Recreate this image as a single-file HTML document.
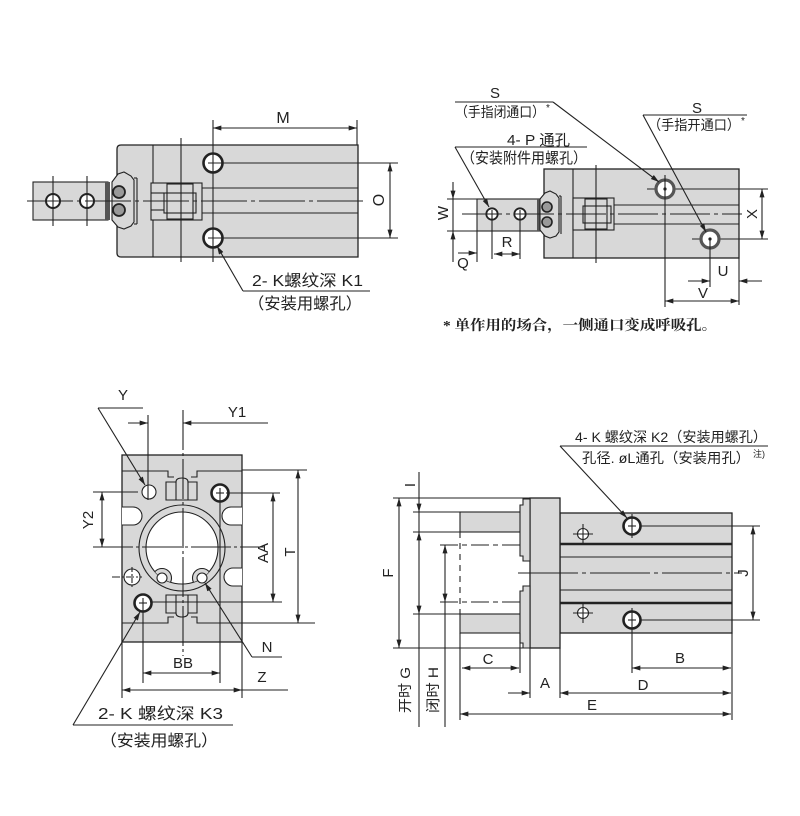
<!DOCTYPE html>
<html><head><meta charset="utf-8"><style>
html,body{margin:0;padding:0;background:#fff;}
svg{display:block}
text{font-family:"Liberation Sans","Noto Sans CJK SC",sans-serif;fill:#222;stroke:none}
</style></head><body>
<svg width="800" height="816" viewBox="0 0 800 816" xmlns="http://www.w3.org/2000/svg">
<defs>
<marker id="a" viewBox="0 0 10 6" refX="10" refY="3" markerWidth="9" markerHeight="5" markerUnits="userSpaceOnUse" orient="auto-start-reverse"><path d="M0,0L10,3L0,6z" fill="#222"/></marker>
<clipPath id="inner"><circle cx="182" cy="548" r="36"/></clipPath>
</defs>

<!-- ================= TOP-LEFT VIEW ================= -->
<g stroke="#222" stroke-width="1.1" fill="none">
  <rect x="33" y="182" width="75" height="38" fill="#d8d8d8"/>
  <path d="M121,145H358V257H121Q117,257 117,253V149Q117,145 121,145Z" fill="#d8d8d8" stroke-width="1.3"/>
  <rect x="105" y="182" width="5" height="38" fill="#555" stroke="none"/>
  <path d="M112,182L118,174L124,172L131,176L134,180L134,222L131,226L124,229L118,227L112,220Z" fill="#d8d8d8"/>
  <line x1="134" y1="178" x2="137" y2="178"/><line x1="137" y1="178" x2="137" y2="224"/><line x1="134" y1="224" x2="137" y2="224"/>
  <circle cx="119" cy="192" r="6" fill="#999" stroke-width="1.8"/>
  <circle cx="119" cy="210" r="6" fill="#999" stroke-width="1.8"/>
  <line x1="153" y1="145" x2="153" y2="257"/>
  <!-- slider -->
  <rect x="151" y="183" width="51" height="37" fill="#d8d8d8"/>
  <rect x="167" y="184" width="26" height="35"/>
  <rect x="164" y="193" width="32" height="20"/>
  <line x1="151" y1="193" x2="164" y2="193"/><line x1="151" y1="210" x2="164" y2="210"/>
  <line x1="181" y1="138" x2="181" y2="262"/>
  <line x1="202" y1="188" x2="358" y2="188"/>
  <line x1="202" y1="213" x2="358" y2="213"/>
  <!-- rod holes -->
  <circle cx="53" cy="201" r="7" fill="#fff" stroke-width="2"/>
  <circle cx="87" cy="201" r="7" fill="#fff" stroke-width="2"/>
  <line x1="27" y1="201" x2="363" y2="201" stroke-dasharray="46 4 4 4"/>
  <line x1="53" y1="176" x2="53" y2="226"/><line x1="87" y1="176" x2="87" y2="226"/>
  <!-- mount holes -->
  <circle cx="213" cy="163" r="9.5" fill="#fff" stroke-width="2.6"/>
  <circle cx="213" cy="238" r="9.5" fill="#fff" stroke-width="2.6"/>
  <line x1="213" y1="120" x2="213" y2="262"/>
  <line x1="208" y1="163" x2="398" y2="163"/>
  <line x1="208" y1="238" x2="398" y2="238"/>
  <line x1="357" y1="120" x2="357" y2="145"/>
  <!-- M -->
  <line x1="213" y1="128" x2="357" y2="128" marker-start="url(#a)" marker-end="url(#a)"/>
  <!-- O -->
  <line x1="390" y1="163" x2="390" y2="238" marker-start="url(#a)" marker-end="url(#a)"/>
  <!-- leader -->
  <line x1="243" y1="291" x2="217" y2="246" marker-end="url(#a)"/>
  <line x1="243" y1="291" x2="370" y2="291"/>
</g>
<text x="283" y="123" font-size="16" text-anchor="middle">M</text>
<text x="378" y="206" font-size="16" text-anchor="middle" transform="rotate(-90 378 200)">O</text>
<text x="252" y="286" font-size="16" textLength="111" lengthAdjust="spacingAndGlyphs">2- K螺纹深 K1</text>
<text x="248" y="309" font-size="16" textLength="114" lengthAdjust="spacingAndGlyphs">（安装用螺孔）</text>

<!-- ================= TOP-RIGHT VIEW ================= -->
<g stroke="#222" stroke-width="1.1" fill="none">
  <rect x="477" y="199" width="63" height="32" fill="#d8d8d8"/>
  <rect x="544" y="169" width="195" height="89" fill="#d8d8d8" stroke-width="1.3"/>
  <rect x="537" y="199" width="4" height="32" fill="#555" stroke="none"/>
  <path d="M540,199L545,193L550,191L556,194L559,198L559,232L556,236L550,238L545,236L540,230Z" fill="#d8d8d8"/>
  <line x1="559" y1="196" x2="561" y2="196"/><line x1="561" y1="196" x2="561" y2="234"/>
  <circle cx="547" cy="207" r="5" fill="#999" stroke-width="1.6"/>
  <circle cx="547" cy="222" r="5" fill="#999" stroke-width="1.6"/>
  <line x1="573" y1="169" x2="573" y2="258"/>
  <rect x="573" y="198" width="41" height="32" fill="#d8d8d8"/>
  <rect x="585" y="199" width="22" height="30"/>
  <rect x="583" y="206" width="28" height="17"/>
  <line x1="596" y1="165" x2="596" y2="263"/>
  <line x1="614" y1="205" x2="739" y2="205"/>
  <line x1="614" y1="224" x2="739" y2="224"/>
  <circle cx="492" cy="214" r="5.7" fill="#fff" stroke-width="1.8"/>
  <circle cx="520" cy="214" r="5.7" fill="#fff" stroke-width="1.8"/>
  <line x1="462" y1="214" x2="742" y2="214" stroke-dasharray="40 4 4 4"/>
  <!-- ports -->
  <line x1="647" y1="189" x2="768" y2="189"/>
  <line x1="692" y1="239" x2="768" y2="239"/>
  <circle cx="665" cy="189" r="9" fill="#fff" stroke="#555" stroke-width="3.2"/>
  <circle cx="710" cy="239" r="9" fill="#fff" stroke="#555" stroke-width="3.2"/>
  <circle cx="665" cy="189" r="1.6" fill="#222" stroke="none"/>
  <circle cx="710" cy="239" r="1.6" fill="#222" stroke="none"/>
  <line x1="665" y1="175" x2="665" y2="307"/>
  <line x1="710" y1="239" x2="710" y2="287"/>
  <line x1="739" y1="258" x2="739" y2="305"/>
  <!-- X -->
  <line x1="762" y1="189" x2="762" y2="239" marker-start="url(#a)" marker-end="url(#a)"/>
  <!-- W -->
  <line x1="447" y1="199" x2="477" y2="199"/>
  <line x1="447" y1="231" x2="477" y2="231"/>
  <line x1="453" y1="182" x2="453" y2="199" marker-end="url(#a)"/>
  <line x1="453" y1="248" x2="453" y2="231" marker-end="url(#a)"/>
  <line x1="453" y1="199" x2="453" y2="231"/>
  <line x1="453" y1="248" x2="453" y2="262"/>
  <line x1="477" y1="231" x2="477" y2="262"/>
  <line x1="492" y1="210" x2="492" y2="259"/>
  <line x1="520" y1="210" x2="520" y2="259"/>
  <!-- Q, R -->
  <line x1="458" y1="253" x2="477" y2="253" marker-end="url(#a)"/>
  <line x1="494" y1="254" x2="520" y2="254" marker-start="url(#a)" marker-end="url(#a)"/>
  <!-- U -->
  <line x1="688" y1="281" x2="710" y2="281" marker-end="url(#a)"/>
  <line x1="762" y1="281" x2="739" y2="281" marker-end="url(#a)"/>
  <!-- V -->
  <line x1="665" y1="301" x2="739" y2="301" marker-start="url(#a)" marker-end="url(#a)"/>
  <!-- leaders -->
  <line x1="455" y1="102" x2="553" y2="102"/>
  <line x1="553" y1="102" x2="659" y2="182" marker-end="url(#a)"/>
  <line x1="643" y1="115" x2="747" y2="115"/>
  <line x1="643" y1="115" x2="706" y2="232" marker-end="url(#a)"/>
  <line x1="455" y1="147" x2="587" y2="147"/>
  <line x1="455" y1="147" x2="489" y2="207" marker-end="url(#a)"/>
</g>
<text x="495" y="98" font-size="15" text-anchor="middle">S</text>
<text x="455" y="117" font-size="14" textLength="90" lengthAdjust="spacingAndGlyphs">（手指闭通口）</text>
<text x="546" y="111" font-size="10">*</text>
<text x="697" y="113" font-size="15" text-anchor="middle">S</text>
<text x="648" y="130" font-size="14" textLength="92" lengthAdjust="spacingAndGlyphs">（手指开通口）</text>
<text x="741" y="124" font-size="10">*</text>
<text x="507" y="145" font-size="15" textLength="63" lengthAdjust="spacingAndGlyphs">4- P 通孔</text>
<text x="461" y="163" font-size="15" textLength="126" lengthAdjust="spacingAndGlyphs">（安装附件用螺孔）</text>
<text x="443" y="218" font-size="15" text-anchor="middle" transform="rotate(-90 443 213)">W</text>
<text x="463" y="268" font-size="15" text-anchor="middle">Q</text>
<text x="507" y="247" font-size="15" text-anchor="middle">R</text>
<text x="752" y="219" font-size="15" text-anchor="middle" transform="rotate(-90 752 214)">X</text>
<text x="723" y="276" font-size="15" text-anchor="middle">U</text>
<text x="703" y="298" font-size="15" text-anchor="middle">V</text>
<text x="443" y="330" font-size="14" font-weight="bold" textLength="274" lengthAdjust="spacingAndGlyphs" style="font-family:'Liberation Serif','Noto Serif CJK SC',serif">* 单作用的场合，一侧通口变成呼吸孔。</text>

<!-- ================= BOTTOM-LEFT VIEW ================= -->
<g stroke="#222" stroke-width="1.1" fill="none">
  <rect x="122" y="455" width="120" height="187" fill="#d8d8d8" stroke-width="1.3"/>
  <!-- top profile -->
  <polyline points="122,471 168,471 168,477 174,477"/>
  <polyline points="242,471 197,471 197,477 191,477"/>
  <path d="M166,500V482H176Q176,478 182,478Q188,478 188,482H197V500Z" fill="#d8d8d8"/>
  <line x1="176" y1="482" x2="176" y2="500"/><line x1="188" y1="482" x2="188" y2="500"/>
  <!-- bottom profile -->
  <polyline points="122,623 168,623 168,617 174,617"/>
  <polyline points="242,623 197,623 197,617 191,617"/>
  <path d="M166,595V613H176Q176,617 182,617Q188,617 188,613H197V595Z" fill="#d8d8d8"/>
  <line x1="176" y1="595" x2="176" y2="613"/><line x1="188" y1="595" x2="188" y2="613"/>
  <!-- side cutouts -->
  <path d="M122,507H133A9,9 0 0 1 133,525H122" fill="#fff"/>
  <path d="M242,507H231A9,9 0 0 0 231,525H242" fill="#fff"/>
  <path d="M242,568H233A9,9 0 0 0 233,586H242" fill="#fff"/>
  <circle cx="132" cy="577" r="8" fill="#fff"/>
  <line x1="112" y1="577" x2="142" y2="577" stroke-dasharray="8 2 2 2"/>
  <line x1="132" y1="567" x2="132" y2="588" stroke-dasharray="5 2 2 2"/>
  <!-- big circle -->
  <circle cx="182" cy="548" r="43" fill="#d8d8d8"/>
  <circle cx="182" cy="548" r="36" fill="#fff"/>
  <g clip-path="url(#inner)">
    <circle cx="162" cy="578" r="9.5" fill="#d8d8d8"/>
    <circle cx="202" cy="578" r="9.5" fill="#d8d8d8"/>
  </g>
  <circle cx="162" cy="578" r="5" fill="#fff"/>
  <circle cx="202" cy="578" r="5" fill="#fff"/>
  <!-- center lines -->
  <line x1="183" y1="410" x2="183" y2="656" stroke-dasharray="40 3 3 3"/>
  <line x1="93" y1="547" x2="265" y2="547" stroke-dasharray="40 3 3 3"/>
  <!-- holes -->
  <circle cx="149" cy="492" r="7" fill="#fff"/>
  <circle cx="220" cy="493" r="8.5" fill="#fff" stroke-width="2.6"/>
  <circle cx="143" cy="603" r="8.5" fill="#fff" stroke-width="2.6"/>
  <line x1="216" y1="493" x2="224" y2="493"/><line x1="139" y1="603" x2="147" y2="603"/>
  <line x1="148" y1="415" x2="148" y2="500"/>
  <line x1="220" y1="488" x2="220" y2="683"/>
  <line x1="143" y1="598" x2="143" y2="683"/>
  <!-- Y1 -->
  <line x1="128" y1="423" x2="148" y2="423" marker-end="url(#a)"/>
  <line x1="268" y1="423" x2="183" y2="423" marker-end="url(#a)"/>
  <!-- Y leader -->
  <line x1="98" y1="408" x2="143" y2="408"/>
  <line x1="98" y1="408" x2="145" y2="485" marker-end="url(#a)"/>
  <!-- Y2 -->
  <line x1="93" y1="492" x2="138" y2="492"/>
  <line x1="102" y1="492" x2="102" y2="547" marker-start="url(#a)" marker-end="url(#a)"/>
  <!-- AA -->
  <line x1="226" y1="493" x2="280" y2="493"/>
  <line x1="150" y1="602" x2="282" y2="602"/>
  <line x1="273" y1="493" x2="273" y2="602" marker-start="url(#a)" marker-end="url(#a)"/>
  <!-- T -->
  <line x1="242" y1="470" x2="307" y2="470"/>
  <line x1="242" y1="623" x2="315" y2="623"/>
  <line x1="298" y1="470" x2="298" y2="623" marker-start="url(#a)" marker-end="url(#a)"/>
  <!-- N -->
  <line x1="252" y1="657" x2="205" y2="583" marker-end="url(#a)"/>
  <line x1="252" y1="657" x2="282" y2="657"/>
  <!-- BB -->
  <line x1="143" y1="673" x2="220" y2="673" marker-start="url(#a)" marker-end="url(#a)"/>
  <!-- Z -->
  <line x1="122" y1="642" x2="122" y2="698"/>
  <line x1="242" y1="642" x2="242" y2="698"/>
  <line x1="122" y1="690" x2="242" y2="690" marker-start="url(#a)" marker-end="url(#a)"/>
  <line x1="242" y1="690" x2="288" y2="690"/>
  <!-- 2-K leader -->
  <line x1="73" y1="725" x2="140" y2="612" marker-end="url(#a)"/>
  <line x1="73" y1="725" x2="233" y2="725"/>
</g>
<text x="123" y="400" font-size="15" text-anchor="middle">Y</text>
<text x="237" y="417" font-size="15" text-anchor="middle">Y1</text>
<text x="88" y="525" font-size="15" text-anchor="middle" transform="rotate(-90 88 520)">Y2</text>
<text x="263" y="558" font-size="15" text-anchor="middle" transform="rotate(-90 263 553)">AA</text>
<text x="290" y="557" font-size="15" text-anchor="middle" transform="rotate(-90 290 552)">T</text>
<text x="267" y="652" font-size="15" text-anchor="middle">N</text>
<text x="183" y="668" font-size="15" text-anchor="middle">BB</text>
<text x="262" y="682" font-size="15" text-anchor="middle">Z</text>
<text x="98" y="719" font-size="16" textLength="125" lengthAdjust="spacingAndGlyphs">2- K 螺纹深 K3</text>
<text x="100" y="746" font-size="16" textLength="118" lengthAdjust="spacingAndGlyphs">（安装用螺孔）</text>

<!-- ================= BOTTOM-RIGHT VIEW ================= -->
<g stroke="#222" stroke-width="1.1" fill="none">
  <rect x="560" y="513" width="172" height="120" fill="#d8d8d8" stroke-width="1.3"/>
  <rect x="530" y="498" width="30" height="150" fill="#d8d8d8" stroke-width="1.3"/>
  <rect x="460" y="512" width="62" height="20" fill="#d8d8d8"/>
  <rect x="460" y="614" width="62" height="19" fill="#d8d8d8"/>
  <path d="M523,499H530V561H523V556H520V505H523Z" fill="#d8d8d8"/>
  <path d="M523,586H530V648H523V643H520V591H523Z" fill="#d8d8d8"/>
  <line x1="460" y1="532" x2="460" y2="614" stroke-dasharray="6 5"/>
  <!-- body lines -->
  <line x1="560" y1="544" x2="732" y2="544" stroke-width="2.6"/>
  <line x1="560" y1="603" x2="732" y2="603" stroke-width="2.6"/>
  <line x1="560" y1="557" x2="732" y2="557"/>
  <line x1="560" y1="590" x2="732" y2="590"/>
  <line x1="518" y1="573" x2="742" y2="573" stroke-dasharray="60 4 4 4"/>
  <!-- holes -->
  <circle cx="583" cy="534" r="5.5" fill="#fff"/>
  <circle cx="583" cy="613" r="5.5" fill="#fff"/>
  <line x1="573" y1="534" x2="593" y2="534"/><line x1="583" y1="524" x2="583" y2="544"/>
  <line x1="573" y1="613" x2="593" y2="613"/><line x1="583" y1="603" x2="583" y2="623"/>
  <circle cx="632" cy="526" r="8.5" fill="#fff" stroke-width="2.6"/>
  <circle cx="632" cy="620" r="8.5" fill="#fff" stroke-width="2.6"/>
  <line x1="632" y1="514" x2="632" y2="538"/>
  <line x1="632" y1="608" x2="632" y2="673"/>
  <line x1="628" y1="526" x2="636" y2="526"/><line x1="628" y1="620" x2="636" y2="620"/>
  <line x1="640" y1="526" x2="760" y2="526"/>
  <line x1="640" y1="620" x2="760" y2="620"/>
  <line x1="753" y1="526" x2="753" y2="620" marker-start="url(#a)" marker-end="url(#a)"/>
  <!-- left ext lines -->
  <line x1="393" y1="498" x2="530" y2="498"/>
  <line x1="393" y1="648" x2="530" y2="648"/>
  <line x1="413" y1="512" x2="460" y2="512"/>
  <line x1="413" y1="532" x2="520" y2="532"/>
  <line x1="413" y1="614" x2="520" y2="614"/>
  <line x1="440" y1="545" x2="520" y2="545" stroke-dasharray="18 4 5 4"/>
  <line x1="440" y1="602" x2="520" y2="602" stroke-dasharray="18 4 5 4"/>
  <!-- F -->
  <line x1="399" y1="498" x2="399" y2="648" marker-start="url(#a)" marker-end="url(#a)"/>
  <!-- I / G -->
  <line x1="419" y1="472" x2="419" y2="512" marker-end="url(#a)"/>
  <line x1="419" y1="512" x2="419" y2="532"/>
  <line x1="419" y1="532" x2="419" y2="614" marker-start="url(#a)" marker-end="url(#a)"/>
  <line x1="419" y1="614" x2="419" y2="727"/>
  <!-- H -->
  <line x1="445" y1="545" x2="445" y2="602" marker-start="url(#a)" marker-end="url(#a)"/>
  <line x1="445" y1="602" x2="445" y2="727"/>
  <!-- bottom ext lines -->
  <line x1="460" y1="633" x2="460" y2="720"/>
  <line x1="520" y1="633" x2="520" y2="673"/>
  <line x1="530" y1="648" x2="530" y2="698"/>
  <line x1="560" y1="648" x2="560" y2="698"/>
  <line x1="732" y1="633" x2="732" y2="720"/>
  <!-- dims -->
  <line x1="462" y1="668" x2="519" y2="668" marker-start="url(#a)" marker-end="url(#a)"/>
  <line x1="632" y1="668" x2="731" y2="668" marker-start="url(#a)" marker-end="url(#a)"/>
  <line x1="508" y1="693" x2="530" y2="693" marker-end="url(#a)"/>
  <line x1="560" y1="693" x2="731" y2="693" marker-start="url(#a)" marker-end="url(#a)"/>
  <line x1="460" y1="714" x2="731" y2="714" marker-start="url(#a)" marker-end="url(#a)"/>
  <!-- leader -->
  <line x1="560" y1="446" x2="768" y2="446"/>
  <line x1="560" y1="446" x2="627" y2="518" marker-end="url(#a)"/>
</g>
<text x="575" y="442" font-size="14" textLength="192" lengthAdjust="spacingAndGlyphs">4- K 螺纹深 K2（安装用螺孔）</text>
<text x="582" y="463" font-size="14" textLength="168" lengthAdjust="spacingAndGlyphs">孔径. øL通孔（安装用孔）</text>
<text x="753" y="457" font-size="9">注)</text>
<text x="410" y="490" font-size="15" text-anchor="middle" transform="rotate(-90 410 485)">I</text>
<text x="388" y="578" font-size="15" text-anchor="middle" transform="rotate(-90 388 573)">F</text>
<text x="743" y="578" font-size="15" text-anchor="middle" transform="rotate(-90 743 573)">J</text>
<text x="488" y="664" font-size="15" text-anchor="middle">C</text>
<text x="545" y="688" font-size="15" text-anchor="middle">A</text>
<text x="643" y="690" font-size="15" text-anchor="middle">D</text>
<text x="680" y="663" font-size="15" text-anchor="middle">B</text>
<text x="592" y="710" font-size="15" text-anchor="middle">E</text>
<text x="405" y="695" font-size="14" text-anchor="middle" textLength="46" lengthAdjust="spacingAndGlyphs" transform="rotate(-90 405 690)">开时 G</text>
<text x="433" y="695" font-size="14" text-anchor="middle" textLength="46" lengthAdjust="spacingAndGlyphs" transform="rotate(-90 433 690)">闭时 H</text>
</svg>
</body></html>
